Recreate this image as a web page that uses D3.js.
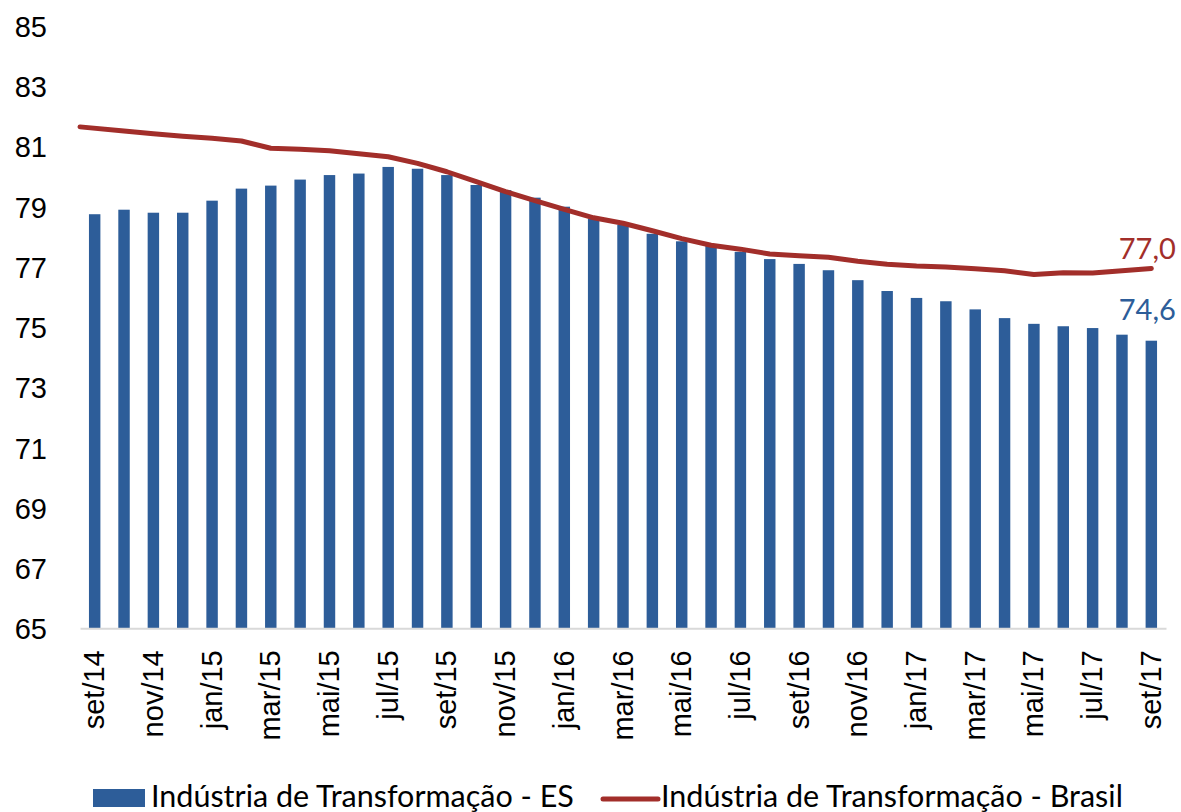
<!DOCTYPE html>
<html>
<head>
<meta charset="utf-8">
<script src="https://cdn.jsdelivr.net/npm/d3@7"></script>
<style>
	body { margin: 0; background: #fff; }
	svg { display: block; font-family: Lato, "Open Sans", sans-serif; }
	.tick-label { font-size: 29px; fill: #000; }
	.legend-label { font-size: 30.5px; fill: #000; }
</style>
</head>
<body>
<svg id="chart" width="1181" height="812"></svg>
<script>
var months = ['set/14', 'out/14', 'nov/14', 'dez/14', 'jan/15', 'fev/15', 'mar/15', 'abr/15', 'mai/15', 'jun/15',
	'jul/15', 'ago/15', 'set/15', 'out/15', 'nov/15', 'dez/15', 'jan/16', 'fev/16', 'mar/16', 'abr/16',
	'mai/16', 'jun/16', 'jul/16', 'ago/16', 'set/16', 'out/16', 'nov/16', 'dez/16', 'jan/17', 'fev/17',
	'mar/17', 'abr/17', 'mai/17', 'jun/17', 'jul/17', 'ago/17', 'set/17'];

// Indústria de Transformação - ES (bars)
var esValues = [78.75, 78.9, 78.8, 78.8, 79.2, 79.6, 79.7, 79.9, 80.05, 80.1,
	80.32, 80.26, 80.05, 79.72, 79.55, 79.3, 79.0, 78.6, 78.4, 78.1,
	77.85, 77.73, 77.5, 77.26, 77.1, 76.89, 76.56, 76.2, 75.97, 75.86,
	75.59, 75.3, 75.11, 75.03, 74.97, 74.75, 74.55];

// Indústria de Transformação - Brasil (line)
var brValues = [81.65, 81.51, 81.42, 81.34, 81.27, 81.18, 80.94, 80.91, 80.86, 80.76,
	80.66, 80.44, 80.16, 79.83, 79.5, 79.2, 78.91, 78.63, 78.45, 78.2,
	77.94, 77.72, 77.59, 77.43, 77.37, 77.32, 77.19, 77.09, 77.03, 77.0,
	76.94, 76.87, 76.75, 76.81, 76.8, 76.87, 76.95];

var yTicks = [65, 67, 69, 71, 73, 75, 77, 79, 81, 83, 85];
var seriesNames = ['Indústria de Transformação - ES', 'Indústria de Transformação - Brasil'];
var lastLabels = ['74,6', '77,0'];

var BLUE = '#2D5D99',
	RED = '#A22E2A';

var svg = d3.select('#chart');

var x = d3.scaleBand()
	.domain(months)
	.range([80, 1166])
	.paddingInner(0.61)
	.paddingOuter(0.305);

var y = d3.scaleLinear()
	.domain([65, 85])
	.range([628.3, 26]);

function center(m) {
	return x(m) + x.bandwidth() / 2;
}

// y axis labels (no axis line)
var yAxis = svg.append('g')
	.attr('transform', 'translate(47,0)')
	.call(d3.axisLeft(y).tickValues(yTicks).tickSize(0).tickPadding(0));
yAxis.select('.domain').remove();
yAxis.selectAll('text')
	.attr('class', 'tick-label')
	.attr('font-family', null)
	.attr('font-size', null)
	.attr('dy', '0.36em');

// bars
svg.append('g')
	.selectAll('rect')
	.data(esValues)
	.enter()
	.append('rect')
	.attr('x', function (d, i) { return x(months[i]); })
	.attr('y', function (d) { return y(d); })
	.attr('width', x.bandwidth())
	.attr('height', function (d) { return y(65) - y(d); })
	.attr('fill', BLUE);

// x axis line + every other month label
var xAxis = svg.append('g')
	.attr('transform', 'translate(0,' + y(65) + ')')
	.call(d3.axisBottom(x)
		.tickValues(months.filter(function (d, i) { return i % 2 === 0; }))
		.tickSize(0)
		.tickPadding(0));
xAxis.select('.domain')
	.attr('stroke', '#D9D9D9')
	.attr('stroke-width', 2);
xAxis.selectAll('text')
	.attr('class', 'tick-label')
	.attr('font-family', null)
	.attr('font-size', null)
	.attr('text-anchor', 'end')
	.attr('transform', 'rotate(-90)')
	.attr('x', -22)
	.attr('y', 0)
	.attr('dy', '0.33em');

// line (starts at the plot's left edge, like the original)
var line = d3.line()
	.x(function (d, i) { return i === 0 ? x.range()[0] : center(months[i]); })
	.y(function (d) { return y(d); });

svg.append('path')
	.datum(brValues)
	.attr('d', line)
	.attr('fill', 'none')
	.attr('stroke', RED)
	.attr('stroke-width', 5)
	.attr('stroke-linejoin', 'round')
	.attr('stroke-linecap', 'round');

// last value labels
var last = months.length - 1;
svg.append('text')
	.attr('class', 'tick-label')
	.attr('x', center(months[last]) - 4)
	.attr('y', y(esValues[last]) - 21)
	.attr('text-anchor', 'middle')
	.style('fill', BLUE)
	.text(lastLabels[0]);
svg.append('text')
	.attr('class', 'tick-label')
	.attr('x', center(months[last]) - 4)
	.attr('y', y(brValues[last]) - 9)
	.attr('text-anchor', 'middle')
	.style('fill', RED)
	.text(lastLabels[1]);

// legend
var legend = svg.append('g')
	.attr('class', 'legend');

var esItem = legend.append('g')
	.attr('transform', 'translate(93,0)');
esItem.append('rect')
	.attr('x', 0)
	.attr('y', 789)
	.attr('width', 52)
	.attr('height', 18)
	.attr('fill', BLUE);
esItem.append('text')
	.attr('class', 'legend-label')
	.attr('x', 58)
	.attr('y', 806.5)
	.text(seriesNames[0]);

var brItem = legend.append('g')
	.attr('transform', 'translate(603,0)');
brItem.append('line')
	.attr('x1', 0)
	.attr('x2', 55)
	.attr('y1', 799)
	.attr('y2', 799)
	.attr('stroke', RED)
	.attr('stroke-width', 5)
	.attr('stroke-linecap', 'round');
brItem.append('text')
	.attr('class', 'legend-label')
	.attr('x', 58)
	.attr('y', 806.5)
	.text(seriesNames[1]);
</script>
</body>
</html>
